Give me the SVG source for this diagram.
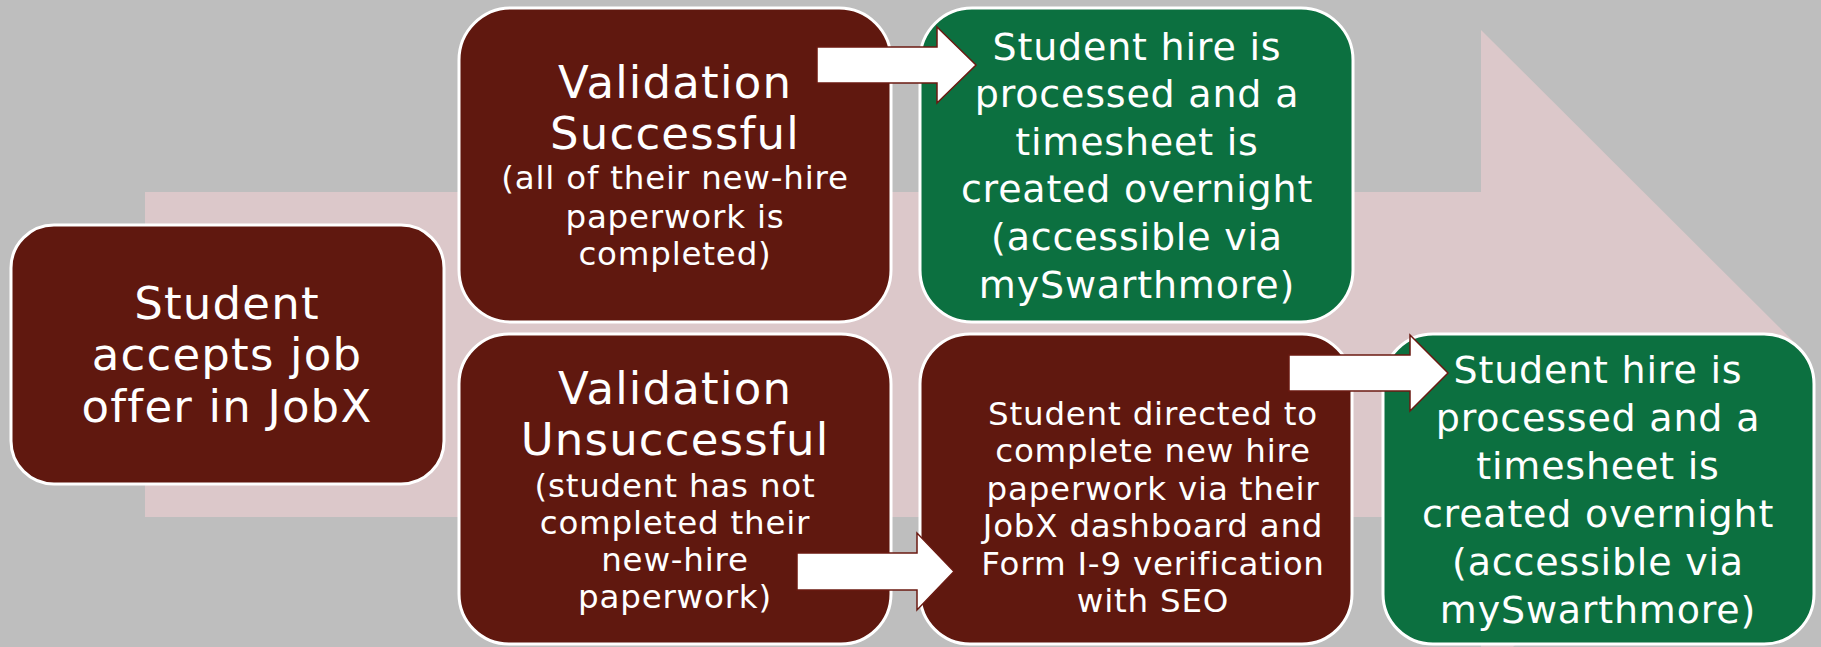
<svg xmlns="http://www.w3.org/2000/svg" width="1821" height="647" viewBox="0 0 1821 647">
  <style>
    .bg { fill: #bebebe; }
    .flow { fill: #dcc8ca; }
    .red { fill: #60180f; stroke: #ffffff; stroke-width: 3; }
    .green { fill: #0c7040; stroke: #ffffff; stroke-width: 3; }
    .arrow { fill: #ffffff; stroke: #6b1a12; stroke-width: 1.5; stroke-linejoin: miter; }
    text { font-family: "DejaVu Sans", "Liberation Sans", sans-serif; fill: #ffffff; text-anchor: middle; }
    .t { font-size: 45px; letter-spacing: 1.2px; }
    .s { font-size: 32.5px; letter-spacing: 0.8px; }
    .g { font-size: 38px; letter-spacing: 0.8px; }
  </style>

  <!-- canvas and the broad process arrow behind the steps -->
  <rect class="bg" x="0" y="0" width="1821" height="647"/>
  <polygon class="flow" points="145,192 1481,192 1481,30 1806,354 1481,679 1481,517 145,517"/>

  <g id="node-accept">
    <rect class="red" x="11" y="225" width="433" height="259" rx="43" ry="43"/>
    <text class="t" x="227" y="318.5">Student</text>
    <text class="t" x="227" y="370">accepts job</text>
    <text class="t" x="227" y="421.5">offer in JobX</text>
  </g>

  <g id="node-valid-ok">
    <rect class="red" x="459" y="8" width="432" height="314" rx="52" ry="52"/>
    <text class="t" x="675" y="98">Validation</text>
    <text class="t" x="675" y="149">Successful</text>
    <text class="s" x="675" y="189">(all of their new-hire</text>
    <text class="s" x="675" y="227.5">paperwork is</text>
    <text class="s" x="675" y="265">completed)</text>
  </g>

  <g id="node-valid-fail">
    <rect class="red" x="459" y="334" width="432" height="310" rx="50" ry="50"/>
    <text class="t" x="675" y="404">Validation</text>
    <text class="t" x="675" y="455">Unsuccessful</text>
    <text class="s" x="675" y="497">(student has not</text>
    <text class="s" x="675" y="534">completed their</text>
    <text class="s" x="675" y="571">new-hire</text>
    <text class="s" x="675" y="608">paperwork)</text>
  </g>

  <g id="node-hired-top">
    <rect class="green" x="920" y="8" width="433" height="314" rx="52" ry="52"/>
    <text class="g" x="1137" y="59.5">Student hire is</text>
    <text class="g" x="1137" y="107">processed and a</text>
    <text class="g" x="1137" y="155">timesheet is</text>
    <text class="g" x="1137" y="202">created overnight</text>
    <text class="g" x="1137" y="250">(accessible via</text>
    <text class="g" x="1137" y="298">mySwarthmore)</text>
  </g>

  <g id="node-paperwork">
    <rect class="red" x="920" y="334" width="432" height="310" rx="50" ry="50"/>
    <text class="s" x="1153" y="425">Student directed to</text>
    <text class="s" x="1153" y="462.4">complete new hire</text>
    <text class="s" x="1153" y="499.8">paperwork via their</text>
    <text class="s" x="1153" y="537.2">JobX dashboard and</text>
    <text class="s" x="1153" y="574.6">Form I-9 verification</text>
    <text class="s" x="1153" y="612">with SEO</text>
  </g>

  <g id="node-hired-bottom">
    <rect class="green" x="1383" y="334" width="431" height="310" rx="50" ry="50"/>
    <text class="g" x="1598" y="383">Student hire is</text>
    <text class="g" x="1598" y="431">processed and a</text>
    <text class="g" x="1598" y="479">timesheet is</text>
    <text class="g" x="1598" y="527">created overnight</text>
    <text class="g" x="1598" y="575">(accessible via</text>
    <text class="g" x="1598" y="623">mySwarthmore)</text>
  </g>

  <g id="connectors">
    <polygon class="arrow" points="817,47 937,47 937,27 976,65 937,103 937,83 817,83"/>
    <polygon class="arrow" points="797,553 917,553 917,533 954,571.5 917,610 917,590 797,590"/>
    <polygon class="arrow" points="1289,355 1410,355 1410,335 1448,373 1410,411 1410,391 1289,391"/>
  </g>
</svg>
